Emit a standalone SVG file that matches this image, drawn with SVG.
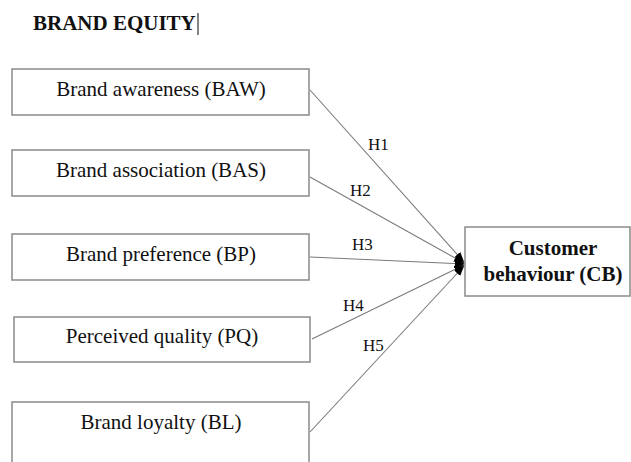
<svg xmlns="http://www.w3.org/2000/svg" width="631" height="462" viewBox="0 0 631 462">
<style>
.box{fill:#fff;stroke:#8a8a8a;stroke-width:1.5}
.lbl{font-family:"Liberation Serif","Times New Roman",serif;font-size:21px;fill:#111;text-anchor:middle}
.b{font-weight:bold}
.h{font-family:"Liberation Serif","Times New Roman",serif;font-size:17px;fill:#111}
.conn{stroke:#7a7a7a;stroke-width:1.1;fill:none;marker-end:url(#ah)}
</style>
<defs>
<marker id="ah" markerUnits="userSpaceOnUse" markerWidth="12" markerHeight="10" refX="10" refY="4" orient="auto">
<path d="M0,0 L10,4 L0,8 Z" fill="#000"/>
</marker>
</defs>
<rect width="631" height="462" fill="#fff"/>
<g id="title">
<text x="33" y="30" class="b" style="font-family:'Liberation Serif','Times New Roman',serif;font-size:21px;fill:#111">BRAND EQUITY</text>
<line x1="198" y1="13" x2="198" y2="35" stroke="#333" stroke-width="1.2"/>
</g>
<g id="connectors">
<line class="conn" x1="310" y1="90" x2="464" y2="262"/>
<line class="conn" x1="310" y1="177" x2="464" y2="263"/>
<line class="conn" x1="310" y1="257" x2="465" y2="264"/>
<line class="conn" x1="312" y1="339" x2="464" y2="265"/>
<line class="conn" x1="310" y1="432" x2="464" y2="266"/>
<text class="h" x="368" y="150">H1</text>
<text class="h" x="350" y="196">H2</text>
<text class="h" x="352" y="250">H3</text>
<text class="h" x="343" y="311">H4</text>
<text class="h" x="363" y="351">H5</text>
</g>
<g id="BAW">
<rect class="box" x="12" y="69" width="297" height="46"/>
<text class="lbl" x="161" y="96">Brand awareness (BAW)</text>
</g>
<g id="BAS">
<rect class="box" x="12" y="150" width="297" height="46"/>
<text class="lbl" x="161" y="177">Brand association (BAS)</text>
</g>
<g id="BP">
<rect class="box" x="12" y="234" width="297" height="46"/>
<text class="lbl" x="161" y="261">Brand preference (BP)</text>
</g>
<g id="PQ">
<rect class="box" x="14" y="317" width="296" height="45"/>
<text class="lbl" x="162" y="343">Perceived quality (PQ)</text>
</g>
<g id="BL">
<rect class="box" x="12" y="402" width="297" height="70"/>
<text class="lbl" x="161" y="429">Brand loyalty (BL)</text>
</g>
<g id="CB">
<rect class="box" x="465" y="227" width="165" height="69"/>
<text class="lbl b" x="553" y="255">Customer</text>
<text class="lbl b" x="553" y="281">behaviour (CB)</text>
</g>
</svg>
